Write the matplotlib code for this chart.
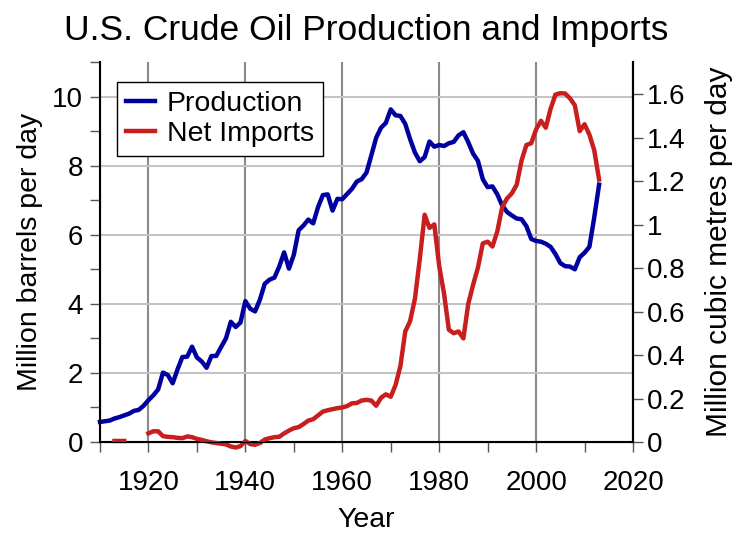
import matplotlib
matplotlib.use('Agg')
import matplotlib.pyplot as plt
from matplotlib.ticker import MultipleLocator
import numpy as np

plt.rcParams['font.family'] = ['Liberation Sans', 'DejaVu Sans']

# million barrels per day
prod_years = list(range(1910, 2014))
production = [0.58, 0.60, 0.62, 0.68, 0.72, 0.77, 0.82, 0.90, 0.93, 1.05,
              1.21, 1.35, 1.52, 2.01, 1.94, 1.70, 2.10, 2.46, 2.47, 2.76,
              2.45, 2.33, 2.15, 2.49, 2.49, 2.75, 3.00, 3.48, 3.33, 3.46,
              4.08, 3.86, 3.78, 4.12, 4.58, 4.70, 4.76, 5.08, 5.49, 5.02,
              5.42, 6.13, 6.27, 6.44, 6.33, 6.80, 7.15, 7.17, 6.70, 7.04,
              7.03, 7.18, 7.33, 7.54, 7.61, 7.80, 8.30, 8.81, 9.10, 9.24,
              9.63, 9.46, 9.44, 9.21, 8.77, 8.38, 8.13, 8.25, 8.70, 8.55,
              8.60, 8.57, 8.65, 8.69, 8.88, 8.97, 8.68, 8.35, 8.14, 7.61,
              7.38, 7.40, 7.17, 6.85, 6.66, 6.56, 6.47, 6.45, 6.25, 5.88,
              5.82, 5.80, 5.74, 5.65, 5.44, 5.18, 5.09, 5.08, 5.00, 5.35,
              5.48, 5.65, 6.50, 7.45]

imp_years = list(range(1913, 2014))
net_imports = [0.03, 0.03, 0.03, np.nan, np.nan, np.nan, np.nan,
               0.25, 0.31, 0.31, 0.17, 0.15, 0.14, 0.12, 0.11, 0.16, 0.14,
               0.09, 0.06, 0.02, -0.01, -0.03, -0.05, -0.07, -0.13, -0.16, -0.12,
               0.03, -0.06, -0.08, -0.03, 0.07, 0.11, 0.14, 0.15, 0.25, 0.33,
               0.40, 0.43, 0.52, 0.62, 0.66, 0.77, 0.88, 0.92, 0.95, 0.98,
               1.00, 1.04, 1.12, 1.13, 1.20, 1.22, 1.20, 1.05, 1.28, 1.38,
               1.31, 1.65, 2.20, 3.20, 3.50, 4.15, 5.30, 6.58, 6.20, 6.30,
               5.10, 4.30, 3.25, 3.15, 3.20, 3.00, 4.00, 4.55, 5.05, 5.75,
               5.80, 5.66, 6.10, 6.80, 7.05, 7.20, 7.45, 8.15, 8.60, 8.65,
               9.05, 9.30, 9.10, 9.65, 10.06, 10.10, 10.09, 9.95, 9.75, 9.00,
               9.20, 8.90, 8.45, 7.60]

BBL_TO_M3 = 0.158987
right_ticks = [0, 0.2, 0.4, 0.6, 0.8, 1.0, 1.2, 1.4, 1.6]
right_labels = ['0', '0.2', '0.4', '0.6', '0.8', '1', '1.2', '1.4', '1.6']

fig = plt.figure(figsize=(7.5, 5.4), dpi=100)
ax = fig.add_subplot(111)
fig.subplots_adjust(left=0.1333, right=0.844, bottom=0.1815, top=0.885)

ax.plot(prod_years, production, color='#0000a0', lw=3.2, label='Production',
        clip_on=False, zorder=3)
ax.plot(imp_years, net_imports, color='#c81e1e', lw=3.2, label='Net Imports',
        clip_on=False, zorder=3)

ax.set_xlim(1910, 2020)
ax.set_ylim(0, 11)
ax.xaxis.set_major_locator(MultipleLocator(20))
ax.xaxis.set_minor_locator(MultipleLocator(10))
ax.yaxis.set_major_locator(MultipleLocator(2))
ax.yaxis.set_minor_locator(MultipleLocator(1))

ax.grid(axis='x', which='major', color='#8a8a8a', lw=1.5, zorder=0)
ax.grid(axis='y', which='major', color='#c4c4c4', lw=1.5, zorder=0)
ax.set_axisbelow(True)

ax.spines['top'].set_visible(False)
for s in ['left', 'bottom', 'right']:
    ax.spines[s].set_linewidth(1.5)
    ax.spines[s].set_color('black')

ax.tick_params(axis='both', which='both', direction='out', length=7,
               width=1, color='#555555', labelsize=20)
ax.tick_params(axis='x', which='both', pad=13)
ax.tick_params(axis='y', which='both', pad=5)

ax.set_xlabel('Year', fontsize=20.5, labelpad=8)
ax.set_ylabel('Million barrels per day', fontsize=20.5, labelpad=7)
ax.set_title('U.S. Crude Oil Production and Imports', fontsize=25.5, pad=16)

ax2 = ax.twinx()
ax2.set_ylim(0, 11 * BBL_TO_M3)
ax2.set_yticks(right_ticks)
ax2.set_yticklabels(right_labels)
ax2.spines['top'].set_visible(False)
ax2.spines['right'].set_linewidth(1.5)
ax2.tick_params(axis='y', direction='out', length=7, width=1, color='#555555',
                labelsize=20, pad=3)
ax2.set_ylabel('Million cubic metres per day', fontsize=21.5, labelpad=14)

leg = ax.legend(loc='upper left', bbox_to_anchor=(0.032, 0.947), borderaxespad=0,
                fontsize=20.5, fancybox=False, edgecolor='black', framealpha=1,
                handlelength=1.05, handletextpad=0.4, borderpad=0.3,
                labelspacing=0.15)
leg.get_frame().set_linewidth(1.0)

fig.savefig('out.png', dpi=100)
